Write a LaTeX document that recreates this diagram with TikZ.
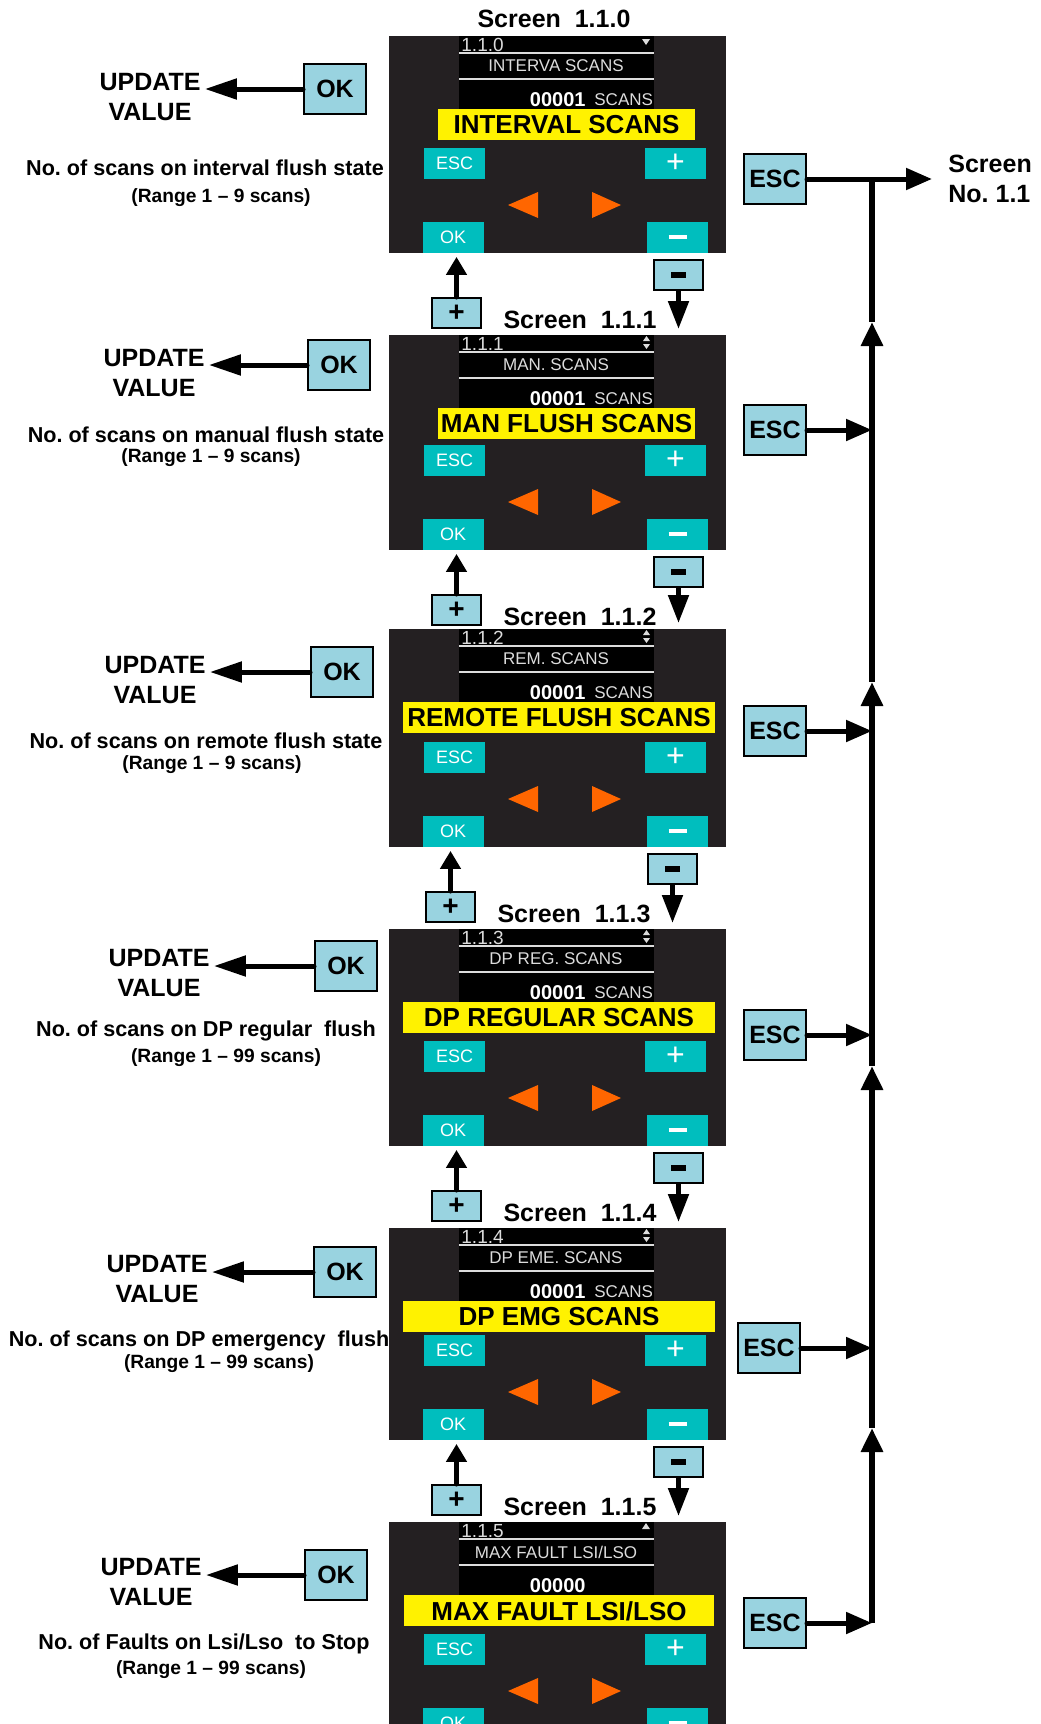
\documentclass[tikz,border=0pt]{standalone}
\usepackage{fontspec}
\setmainfont{Liberation Sans}
\usetikzlibrary{arrows.meta, positioning}
\frenchspacing

\definecolor{gehaeuse}{RGB}{36,32,34}
\definecolor{tastengruen}{RGB}{0,190,190}
\definecolor{pfeilorange}{RGB}{255,102,0}
\definecolor{kastenblau}{RGB}{153,211,224}
\definecolor{lcdgrau}{RGB}{220,220,220}

\tikzset{
  fett/.style={font=\bfseries\fontsize{12.5}{15}\selectfont},
  kasten/.style={fett, draw=black, line width=1pt, fill=kastenblau,
    minimum width=31pt, minimum height=25pt, inner sep=0pt},
  kleinkasten/.style={draw=black, line width=1pt, fill=kastenblau,
    minimum width=24.5pt, minimum height=15pt, inner sep=0pt,
    font=\bfseries\fontsize{14}{14}\selectfont},
  taste/.style={fill=tastengruen, text=white, font=\fontsize{9}{10}\selectfont,
    minimum width=30.5pt, minimum height=15.5pt, inner sep=0pt},
  tastezeichen/.style={taste, font=\fontsize{16}{16}\selectfont},
  lcd/.style={text=lcdgrau, font=\fontsize{8.5}{9}\selectfont, inner sep=0pt},
  zeile/.style={font=\bfseries\fontsize{10.8}{12}\selectfont, inner sep=0pt},
  bereich/.style={font=\bfseries\fontsize{9.6}{11}\selectfont, inner sep=0pt},
  updpfeil/.style={line width=2.5pt, line cap=round, -{Triangle[length=16pt,width=10pt]}},
  escpfeil/.style={line width=2.5pt, line cap=round, -{Triangle[length=13pt,width=10.5pt]}},
  bus/.style={line width=3pt, -{Triangle[length=12pt,width=10.5pt]}},
  pluspfeil/.style={line width=2.5pt, line cap=round, -{Triangle[length=9pt,width=10pt]}, shorten >=2pt},
  minuspfeil/.style={line width=2.5pt, -{Triangle[length=14pt,width=10pt]}, shorten >=3pt},
}

\begin{document}
\begin{tikzpicture}[x=0.5pt, y=-0.5pt]

  \useasboundingbox (0,0) rectangle (1040,1724);
  \clip (0,0) rectangle (1040,1724);

  % Bildschirme
  \foreach \i/\T/\B in {0/36/253, 1/335/550, 2/629/847, 3/929/1146, 4/1228/1440, 5/1522/1739} {
    \fill[gehaeuse] (389,\T) rectangle (726,\B);
    \fill[black] (459,\T) rectangle (654,\T+74);
    \draw[lcdgrau, line width=0.8pt] (459,\T+17) -- (654,\T+17) (459,\T+43) -- (654,\T+43);
    \coordinate (p\i) at (389,\T);
    \node[lcd, anchor=west, font=\fontsize{9.5}{10}\selectfont] (nr\i) at (461,\T+9) {1.1.\i};
    \node[taste] (tesc\i) at (454.5,\B-89.5) {ESC};
    \node[tastezeichen] (tplus\i) at (675.5,\B-89.5) {+};
    \node[taste] (tok\i) at (453,\B-16) {OK};
    \node[taste] (tminus\i) at (677.5,\B-16) {\rule{9pt}{1.6pt}};
    \fill[pfeilorange] (538,\B-61) -- (538,\B-35) -- (508,\B-48) -- cycle;
    \fill[pfeilorange] (592,\B-61) -- (592,\B-35) -- (621,\B-48) -- cycle;
  }

  % Anzeigetexte
  \def\lsilso{LSI/LSO}
  \foreach \i/\T/\titel/\wert/\gelb/\ga/\gb in {
      0/36/INTERVA SCANS/00001/INTERVAL SCANS/438/695,
      1/335/MAN. SCANS/00001/MAN FLUSH SCANS/438/695,
      2/629/REM. SCANS/00001/REMOTE FLUSH SCANS/403/715,
      3/929/DP REG. SCANS/00001/DP REGULAR SCANS/403/715,
      4/1228/DP EME. SCANS/00001/DP EMG SCANS/403/715,
      5/1522/MAX FAULT \lsilso/00000/MAX FAULT \lsilso/404/714} {
    \node[lcd] (ti\i) at (556,\T+30) {\titel};
    \node[lcd, text=white, font=\bfseries\fontsize{10}{10}\selectfont, anchor=east] (w\i) at (586,\T+64) {\wert};
    \fill[yellow] (\ga,\T+73) rectangle (\gb,\T+104);
    \node[fett, font=\bfseries\fontsize{13}{15}\selectfont, inner sep=0pt] (g\i) at ({(\ga+\gb)/2},\T+89) {\gelb};
  }
  \foreach \i/\T in {0/36, 1/335, 2/629, 3/929, 4/1228}
    \node[lcd, anchor=west] (e\i) at (594,\T+64) {SCANS};

  % Blaettersymbole
  \fill[lcdgrau] (642,39) -- (650,39) -- (646,45) -- cycle;
  \foreach \T in {335,629,929,1228} {
    \fill[lcdgrau] (643,\T+6) -- (650,\T+6) -- (646.5,\T+1) -- cycle;
    \fill[lcdgrau] (643,\T+9) -- (650,\T+9) -- (646.5,\T+14) -- cycle;
  }
  \fill[lcdgrau] (642,1529) -- (650,1529) -- (646,1523) -- cycle;

  % Uebergaenge + / -
  \node[fett] (s0) at (554,19) {Screen~ 1.1.0};
  \foreach \i/\B/\dx [evaluate=\i as \j using int(\i-1)] in {1/253/0, 2/550/0, 3/847/-6, 4/1146/0, 5/1440/0} {
    \node[fett] (s\i) at (580+\dx,\B+67) {Screen~ 1.1.\i};
    \node[kleinkasten] (plus\i) at (456.5+\dx,\B+60) {+};
    \node[kleinkasten] (minus\i) at (678.5+\dx,\B+22) {\rule{7.5pt}{2.6pt}};
    \draw[pluspfeil] (plus\i.north) -- (plus\i.north |- tok\j.south);
    \draw[minuspfeil] (minus\i.south) -- (minus\i.south |- p\i);
  }

  % OK -> UPDATE VALUE
  \foreach \i/\ux/\uy/\ox/\oy in {0/150/97/335/89, 1/154/373/339/365, 2/155/680/342/672,
      3/159/973/346/966, 4/157/1279/345/1272, 5/151/1582/336/1575} {
    \node[fett, align=center, inner sep=2pt] (upd\i) at (\ux,\uy) {UPDATE\\VALUE};
    \node[kasten] (ok\i) at (\ox,\oy) {OK};
    \draw[updpfeil] (ok\i.west) -- (ok\i.west -| upd\i.east);
  }

  % Beschreibungen
  \node[zeile] (b0) at (205,168) {No. of scans on interval flush state};
  \node[bereich] (r0) at (221,198) {(Range 1 – 9 scans)};
  \node[zeile] (b1) at (206,435) {No. of scans on manual flush state};
  \node[bereich] (r1) at (211,458) {(Range 1 – 9 scans)};
  \node[zeile] (b2) at (206,741) {No. of scans on remote flush state};
  \node[bereich] (r2) at (212,765) {(Range 1 – 9 scans)};
  \node[zeile] (b3) at (206,1031) {No. of scans on DP regular~ flush};
  \node[bereich] (r3) at (226,1058) {(Range 1 – 99 scans)};
  \node[zeile] (b4) at (199,1341) {No. of scans on DP emergency~ flush};
  \node[bereich] (r4) at (219,1364) {(Range 1 – 99 scans)};
  \node[zeile] (b5) at (204,1644) {No. of Faults on Lsi/Lso~ to Stop};
  \node[bereich] (r5) at (211,1670) {(Range 1 – 99 scans)};

  % ESC -> Screen No. 1.1
  \coordinate (bus) at (872,0);
  \foreach \i/\x/\y in {0/775/179, 1/775/430, 2/775/731, 3/775/1035, 4/769/1348, 5/775/1623}
    \node[kasten] (esc\i) at (\x,\y) {ESC};
  \node[fett, align=left, anchor=west, inner xsep=8pt, inner ysep=0pt] (scr) at (932,179) {Screen\\No. 1.1};
  \draw[escpfeil] (esc0.east) -- (scr.west);
  \foreach \i in {1,...,5}
    \draw[escpfeil] (esc\i.east) -- (esc\i.east -| bus);

  % Sammelleitung
  \coordinate (k1) at (872,322);
  \coordinate (k2) at (872,682);
  \coordinate (k3) at (872,1066);
  \coordinate (k4) at (872,1428);
  \draw[bus] (esc5.east -| bus) -- (k4);
  \draw[bus] (k4) -- (k3);
  \draw[bus] (k3) -- (k2);
  \draw[bus] (k2) -- (k1);
  \draw[line width=3pt] (k1) -- (esc0.east -| bus);

\end{tikzpicture}
\end{document}
